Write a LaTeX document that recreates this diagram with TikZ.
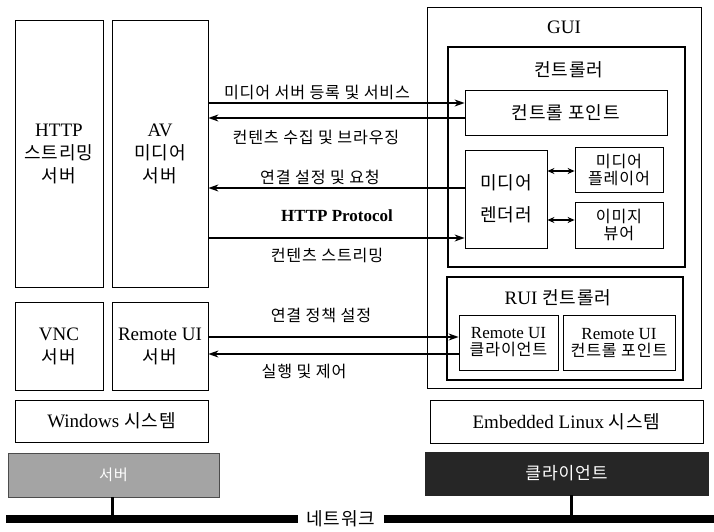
\documentclass[tikz,border=0pt]{standalone}
\usepackage{fontspec}
\setmainfont{Liberation Serif}
\newfontfamily\kr[Scale=0.95,LetterSpace=5]{Noto Sans CJK KR}
\newcommand\ko[1]{{\kr #1}}
\usetikzlibrary{arrows.meta}
\definecolor{srvgray}{HTML}{A4A4A4}
\definecolor{cligray}{HTML}{262626}

\begin{document}
\begin{tikzpicture}[x=1pt,y=-1pt,
  box/.style={draw, line width=0.8pt, inner sep=0pt, align=center, font=\fontsize{19}{23}\selectfont},
  thickbox/.style={box, line width=2.4pt},
  smallbox/.style={box, font=\fontsize{17}{17}\selectfont},
  lbl/.style={font=\fontsize{17}{20}\selectfont, inner sep=0pt},
  arr/.style={line width=1.3pt, -{Stealth[length=10pt,width=7pt]}},
  dblarr/.style={line width=1.3pt, {Stealth[length=7pt,width=6pt]}-{Stealth[length=7pt,width=6pt]}},
  netline/.style={line width=8pt}]
\useasboundingbox (0,0) rectangle (714,532);

% Windows side
\node[box, minimum width=88, minimum height=267] (http) at (59,153.5) {HTTP\\\ko{스트리밍}\\\ko{서버}};
\node[box, minimum width=96, minimum height=267] (av) at (160,153.5) {AV\\\ko{미디어}\\\ko{서버}};
\node[box, minimum width=88, minimum height=88] (vnc) at (59,346) {VNC\\\ko{서버}};
\node[box, minimum width=96, minimum height=88] (ruisrv) at (160,346) {Remote UI\\\ko{서버}};
\node[box, minimum width=193, minimum height=42] (win) at (111.5,421) {Windows \ko{시스템}};

% Embedded Linux side
\node[box, minimum width=274, minimum height=381] (gui) at (564,197.5) {};
\node[lbl, font=\fontsize{19}{23}\selectfont] (guititle) at (564,27) {GUI};
\node[thickbox, minimum width=237, minimum height=220] (ctrl) at (566.5,157) {};
\node[lbl, font=\fontsize{19}{23}\selectfont] (ctrltitle) at (569,70) {\ko{컨트롤러}};
\node[box, minimum width=202, minimum height=45] (cp) at (566,112.5) {\ko{컨트롤 포인트}};
\node[box, minimum width=82, minimum height=98] (rend) at (506,199) {\ko{미디어}\\[9pt]\ko{렌더러}};
\node[smallbox, minimum width=88, minimum height=45] (player) at (619,169.5) {\ko{미디어}\\\ko{플레이어}};
\node[smallbox, minimum width=88, minimum height=46] (viewer) at (619,225) {\ko{이미지}\\\ko{뷰어}};
\node[thickbox, minimum width=236, minimum height=103] (ruictrl) at (565,328.5) {};
\node[lbl, font=\fontsize{19}{23}\selectfont] (ruititle) at (558,298) {RUI \ko{컨트롤러}};
\node[smallbox, minimum width=99, minimum height=55] (ruicli) at (508.5,342.5) {Remote UI\\\ko{클라이언트}};
\node[smallbox, minimum width=112, minimum height=55] (ruicp) at (619,342.5) {Remote UI\\\ko{컨트롤 포인트}};
\node[box, minimum width=273, minimum height=43] (linux) at (566.5,421.5) {Embedded Linux \ko{시스템}};

% connectors
\draw[arr] (av.east |- 0,103) -- (cp.west |- 0,103);
\draw[arr] (cp.west |- 0,118) -- (av.east |- 0,118);
\draw[arr] (rend.west |- 0,188) -- (av.east |- 0,188);
\draw[arr] (av.east |- 0,238) -- (rend.west |- 0,238);
\draw[arr] (ruisrv.east |- 0,337) -- (ruicli.west |- 0,337);
\draw[arr] (ruicli.west |- 0,354) -- (ruisrv.east |- 0,354);
\draw[dblarr] (rend.east |- 0,171) -- (player.west |- 0,171);
\draw[dblarr] (rend.east |- 0,220) -- (viewer.west |- 0,220);

\node[lbl] (l1) at (317,92) {\ko{미디어 서버 등록 및 서비스}};
\node[lbl] (l2) at (316,137) {\ko{컨텐츠 수집 및 브라우징}};
\node[lbl] (l3) at (320,177) {\ko{연결 설정 및 요청}};
\node[lbl, font=\fontsize{17}{20}\selectfont\bfseries] (l4) at (337,216) {HTTP Protocol};
\node[lbl] (l5) at (327,255) {\ko{컨텐츠 스트리밍}};
\node[lbl] (l6) at (321,315) {\ko{연결 정책 설정}};
\node[lbl] (l7) at (304,371) {\ko{실행 및 제어}};

% network
\node[box, fill=srvgray, draw=black!70, minimum width=211, minimum height=44,
  font=\fontsize{16}{18}\selectfont\color{white}] (server) at (113.5,475) {\ko{서버}};
\node[box, fill=cligray, draw=cligray, minimum width=283, minimum height=43,
  font=\fontsize{18}{20}\selectfont\color{white}] (client) at (566.5,473.5) {\ko{클라이언트}};
\coordinate (netL) at (6,519);
\coordinate (netR) at (714,519);
\node[lbl, inner xsep=8pt, font=\fontsize{19}{23}\selectfont] (net) at (341,519) {\ko{네트워크}};
\draw[netline] (netL) -- (net.west);
\draw[netline] (net.east) -- (netR);
\draw[line width=3pt] ([xshift=-1.5pt]server.south) -- ([xshift=-1.5pt]server.south |- netL);
\draw[line width=3pt] ([xshift=4.5pt]client.south) -- ([xshift=4.5pt]client.south |- netL);
\end{tikzpicture}
\end{document}
